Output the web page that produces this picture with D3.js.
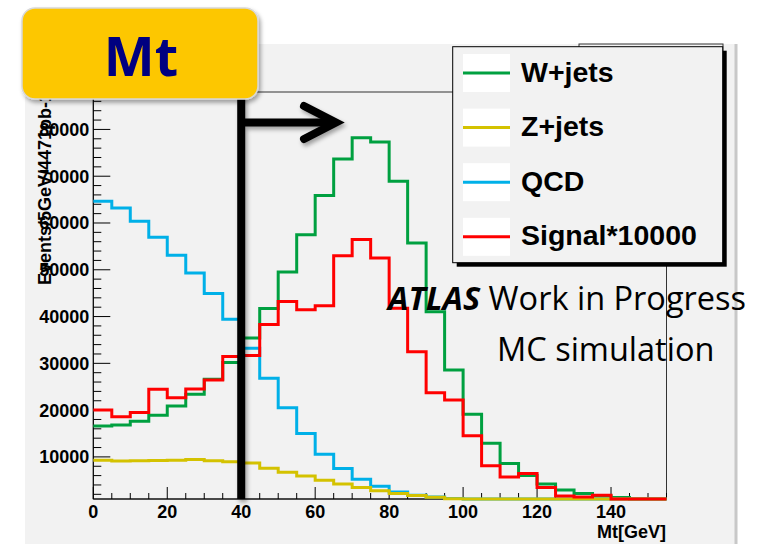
<!DOCTYPE html>
<html>
<head>
<meta charset="utf-8">
<script src="https://cdn.jsdelivr.net/npm/d3@7"></script>
<style>
  body { margin: 0; background: #ffffff; }
  svg { display: block; }
</style>
</head>
<body>
<svg id="chart" width="757" height="544"></svg>
<script>
// bin lower edges, 5 GeV bins from 0 to 155
var binEdges = d3.range(0, 160, 5);
var xTicks = [0, 20, 40, 60, 80, 100, 120, 140];
var yTicks = [10000, 20000, 30000, 40000, 50000, 60000, 70000, 80000];

var wjets = [16600, 16800, 17600, 18900, 20900, 23400, 26600, 30200, 35400, 41700,
             49550, 57500, 65900, 73700, 78200, 77300, 68900, 55700, 41000, 28600,
             19100, 12900, 8600, 6000, 4200, 2900, 2200, 1650, 1300, 900, 800];
var zjets = [9300, 9100, 9200, 9250, 9300, 9450, 9150, 8950, 8700, 7550,
             6700, 5900, 5000, 4230, 3480, 2750, 2160, 1730, 1370, 1050,
             900, 800, 700, 600, 500, 400, 300, 250, 200, 150, 100];
var qcd = [64650, 63230, 60360, 56930, 53080, 49300, 44930, 39450, 33230, 26800,
           20510, 15020, 10590, 7520, 5230, 3730, 2510, 1800, 1440, 1100,
           900, 700, 500, 400, 300, 200, 150, 100, 100, 100, 100];
var signal = [20000, 18600, 19500, 24450, 22650, 24500, 26450, 31450, 31650, 38300,
              43200, 41450, 42300, 53000, 56450, 52500, 41800, 32500, 23700, 22150,
              14500, 8100, 5700, 6450, 3450, 1650, 1450, 1800, 900, 800, 700];

var seriesNames = ["W+jets", "Z+jets", "QCD", "Signal*10000"];
var seriesColors = ["#00a040", "#d4c200", "#00b0e8", "#ff0000"];

var svg = d3.select("#chart");
var font = "'Liberation Sans', Arial, sans-serif";

// shadow filter
var defs = svg.append("defs");
var f = defs.append("filter").attr("id", "shadow").attr("x", "-20%").attr("y", "-20%")
    .attr("width", "140%").attr("height", "140%");
f.append("feDropShadow").attr("dx", 2).attr("dy", 3).attr("stdDeviation", 2)
    .attr("flood-color", "#000").attr("flood-opacity", 0.35);

// canvas background
svg.append("rect").attr("x", 25).attr("y", 44).attr("width", 711).attr("height", 500)
    .attr("fill", "#f2f2f2");
svg.append("line").attr("x1", 736).attr("x2", 736).attr("y1", 44).attr("y2", 544)
    .attr("stroke", "#c8c8c8").attr("stroke-width", 3);
// box hidden behind legend
svg.append("rect").attr("x", 579).attr("y", 44).attr("width", 144).attr("height", 30)
    .attr("fill", "#f2f2f2").attr("stroke", "#333").attr("stroke-width", 1);

var x = d3.scaleLinear().domain([0, 155]).range([93.3, 666.5]);
var y = d3.scaleLinear().domain([1000, 88000]).range([499, 92]).clamp(true);

// frame
svg.append("rect").attr("x", x(0)).attr("y", y(88000))
    .attr("width", x(155) - x(0)).attr("height", y(1000) - y(88000))
    .attr("fill", "#f2f2f2").attr("stroke", "#333").attr("stroke-width", 1);

// axes
var xAxis = svg.append("g").attr("transform", "translate(0," + y(1000) + ")");
xAxis.append("line").attr("x1", x(0)).attr("x2", x(155)).attr("stroke", "#000");
xAxis.selectAll(".minor").data(d3.range(0, 156, 5)).enter().append("line")
    .attr("x1", d => x(d)).attr("x2", d => x(d))
    .attr("y1", 0).attr("y2", d => d % 20 === 0 ? -12 : -6)
    .attr("stroke", "#000").attr("stroke-width", 1);
xAxis.selectAll(".lbl").data(xTicks).enter().append("text")
    .attr("x", d => x(d)).attr("y", 19)
    .attr("text-anchor", "middle").attr("font-family", font)
    .attr("font-weight", "bold").attr("font-size", 18).text(d => d);
svg.append("text").attr("x", 666).attr("y", 538).attr("text-anchor", "end")
    .attr("font-family", font).attr("font-weight", "bold").attr("font-size", 18)
    .text("Mt[GeV]");

var yAxis = svg.append("g").attr("transform", "translate(" + x(0) + ",0)");
yAxis.append("line").attr("y1", y(1000)).attr("y2", y(88000)).attr("stroke", "#000");
yAxis.selectAll(".minor").data(d3.range(2000, 88001, 2000)).enter().append("line")
    .attr("y1", d => y(d)).attr("y2", d => y(d))
    .attr("x1", 0).attr("x2", d => d % 10000 === 0 ? 17 : 8)
    .attr("stroke", "#000").attr("stroke-width", 1);
yAxis.selectAll(".lbl").data(yTicks).enter().append("text")
    .attr("x", -4).attr("y", d => y(d)).attr("dy", "0.36em")
    .attr("text-anchor", "end").attr("font-family", font)
    .attr("font-weight", "bold").attr("font-size", 18).text(d => d);
svg.append("text").attr("transform", "translate(51,92) rotate(-90)")
    .attr("text-anchor", "end").attr("font-family", font)
    .attr("font-weight", "bold").attr("font-size", 18)
    .text("Events/5GeV/4471pb-1");

// histograms
var line = d3.line().x(d => x(d[0])).y(d => y(d[1])).curve(d3.curveStepAfter);
function histPoints(vals) {
    var pts = vals.map((v, i) => [binEdges[i], v]);
    pts.push([155, vals[vals.length - 1]]);
    return pts;
}
var drawOrder = [[wjets, 0], [qcd, 2], [zjets, 1], [signal, 3]];
drawOrder.forEach(function (s) {
    svg.append("path").attr("d", line(histPoints(s[0])))
        .attr("fill", "none").attr("stroke", seriesColors[s[1]])
        .attr("stroke-width", 3);
});

// ATLAS label
var labelFont = "'Open Sans', Lato, sans-serif";
var t1 = svg.append("text").attr("x", 388).attr("y", 310)
    .attr("font-family", labelFont).attr("font-size", 32.5);
t1.append("tspan").attr("font-weight", "bold").attr("font-style", "italic").text("ATLAS");
t1.append("tspan").text(" Work in Progress");
svg.append("text").attr("x", 497).attr("y", 361)
    .attr("font-family", labelFont).attr("font-size", 32.5)
    .text("MC simulation");

// legend
svg.append("rect").attr("x", 456.7).attr("y", 50.7).attr("width", 270).attr("height", 216)
    .attr("fill", "#000");
svg.append("rect").attr("x", 452.7).attr("y", 46.7).attr("width", 270).attr("height", 216)
    .attr("fill", "#f2f2f2").attr("stroke", "#000").attr("stroke-width", 1);
seriesNames.forEach(function (name, i) {
    var cy = 73 + i * 54.6;
    svg.append("rect").attr("x", 463).attr("y", cy - 19).attr("width", 47).attr("height", 38)
        .attr("fill", "#fff");
    svg.append("line").attr("x1", 463).attr("x2", 510).attr("y1", cy).attr("y2", cy)
        .attr("stroke", seriesColors[i]).attr("stroke-width", 3);
    svg.append("text").attr("x", 521).attr("y", cy + 8.5)
        .attr("font-family", font).attr("font-weight", "bold").attr("font-size", 28.5)
        .text(name);
});

// cut line and arrow
var cut = svg.append("g").attr("filter", "url(#shadow)");
cut.append("line").attr("x1", x(40)).attr("x2", x(40)).attr("y1", 95).attr("y2", y(1000))
    .attr("stroke", "#000").attr("stroke-width", 8);
cut.append("line").attr("x1", x(40)).attr("x2", 333).attr("y1", 122.5).attr("y2", 122.5)
    .attr("stroke", "#000").attr("stroke-width", 8);
cut.append("path").attr("d", "M304,106 L336,122.5 L304,139")
    .attr("fill", "none").attr("stroke", "#000").attr("stroke-width", 8)
    .attr("stroke-linecap", "round").attr("stroke-linejoin", "miter");

// Mt box
var box = svg.append("g").attr("filter", "url(#shadow)");
box.append("rect").attr("x", 22).attr("y", 8).attr("width", 236).attr("height", 91)
    .attr("rx", 13).attr("fill", "#fdc700").attr("stroke", "#d8d8d8").attr("stroke-width", 1.5);
svg.append("text").attr("x", 141).attr("y", 76).attr("text-anchor", "middle")
    .attr("font-family", "'Open Sans', sans-serif").attr("font-weight", "bold")
    .attr("font-size", 54).attr("fill", "#000080").text("Mt");
</script>
</body>
</html>
